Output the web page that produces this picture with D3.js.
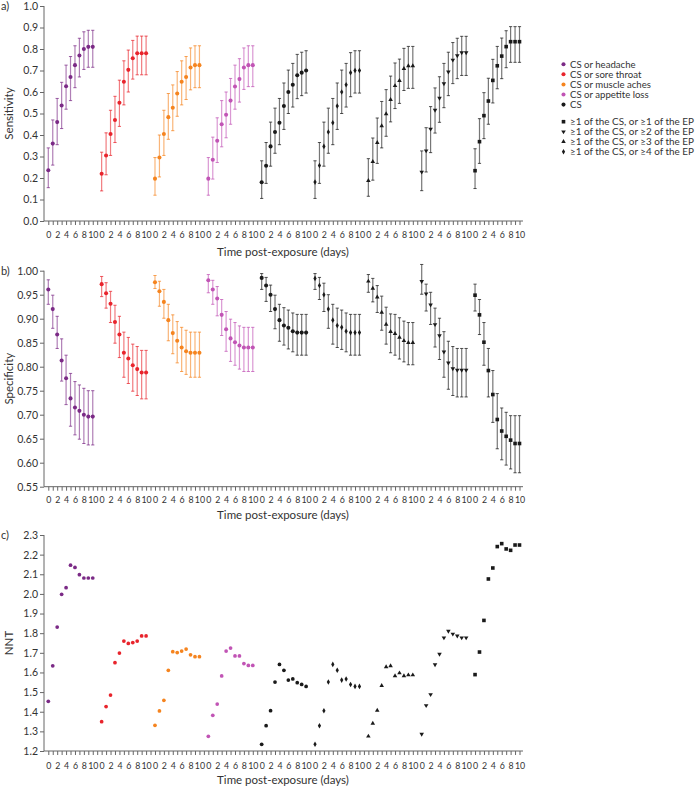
<!DOCTYPE html>
<html><head><meta charset="utf-8">
<script src="https://cdn.jsdelivr.net/npm/d3@7"></script>
<style>body{margin:0;background:#fff;} svg{display:block;font-family:Lato,"Open Sans",sans-serif;}</style>
</head><body><svg id="c" width="696" height="788"></svg>
<script>
const days = [0,1,2,3,4,5,6,7,8,9,10];
const seriesNames = ["CS or headache","CS or sore throat","CS or muscle aches","CS or appetite  loss","CS",
  "\u22651 of the CS, or \u22654 of the EP","\u22651 of the CS, or \u22653 of the EP","\u22651 of the CS, or \u22652 of the EP","\u22651 of the CS, or \u22651 of the EP"];
const seriesColors = ["#7b2a86","#e8242c","#f5841f","#c154b5","#1a1a1a","#1a1a1a","#1a1a1a","#1a1a1a","#1a1a1a"];
const seriesShapes = ["circle","circle","circle","circle","circle","diamond","triUp","triDown","square"];
const legendOrder = [0,1,2,3,4,8,7,6,5];

// Panel a: sensitivity
const sensHeadache   = [0.236,0.36,0.46,0.537,0.627,0.67,0.725,0.77,0.80,0.81,0.81];
const sensHeadacheLo = [0.155,0.26,0.355,0.43,0.52,0.56,0.62,0.67,0.705,0.715,0.715];
const sensHeadacheHi = [0.34,0.47,0.57,0.645,0.725,0.765,0.815,0.85,0.88,0.887,0.887];
const sensThroat     = [0.22,0.305,0.405,0.47,0.55,0.648,0.703,0.757,0.78,0.78,0.78];
const sensThroatLo   = [0.14,0.215,0.305,0.365,0.44,0.54,0.60,0.66,0.68,0.68,0.68];
const sensThroatHi   = [0.32,0.41,0.515,0.58,0.655,0.745,0.795,0.84,0.86,0.86,0.86];
const sensAches      = [0.197,0.295,0.405,0.483,0.527,0.593,0.648,0.67,0.714,0.725,0.725];
const sensAchesLo    = [0.12,0.205,0.305,0.38,0.42,0.487,0.54,0.565,0.61,0.62,0.62];
const sensAchesHi    = [0.295,0.40,0.515,0.593,0.633,0.695,0.745,0.765,0.805,0.815,0.815];
const sensAppetite   = [0.197,0.285,0.373,0.45,0.494,0.56,0.626,0.66,0.714,0.725,0.725];
const sensAppetiteLo = [0.12,0.195,0.272,0.345,0.387,0.45,0.52,0.553,0.612,0.625,0.625];
const sensAppetiteHi = [0.295,0.39,0.48,0.56,0.60,0.663,0.725,0.755,0.805,0.815,0.815];
const sensCS         = [0.18,0.257,0.347,0.414,0.457,0.535,0.60,0.634,0.678,0.69,0.70];
const sensCSLo       = [0.105,0.175,0.255,0.315,0.355,0.426,0.50,0.53,0.569,0.583,0.595];
const sensCSHi       = [0.28,0.365,0.46,0.525,0.57,0.642,0.702,0.733,0.775,0.785,0.792];
const sensEP4        = [0.181,0.258,0.347,0.414,0.457,0.535,0.60,0.634,0.69,0.70,0.70];
const sensEP4Lo      = [0.105,0.175,0.255,0.315,0.355,0.426,0.50,0.53,0.578,0.595,0.595];
const sensEP4Hi      = [0.28,0.365,0.46,0.525,0.57,0.642,0.702,0.733,0.783,0.792,0.792];
const sensEP3        = [0.188,0.276,0.364,0.442,0.498,0.564,0.629,0.653,0.709,0.721,0.721];
const sensEP3Lo      = [0.115,0.19,0.268,0.34,0.394,0.461,0.523,0.547,0.607,0.617,0.617];
const sensEP3Hi      = [0.29,0.386,0.479,0.556,0.611,0.674,0.735,0.753,0.803,0.812,0.812];
const sensEP2        = [0.228,0.327,0.428,0.516,0.572,0.639,0.694,0.749,0.769,0.783,0.783];
const sensEP2Lo      = [0.141,0.228,0.318,0.409,0.459,0.527,0.583,0.639,0.662,0.677,0.677];
const sensEP2Hi      = [0.326,0.434,0.532,0.619,0.671,0.733,0.785,0.83,0.85,0.859,0.859];
const sensEP1        = [0.234,0.369,0.49,0.558,0.654,0.722,0.767,0.811,0.834,0.834,0.834];
const sensEP1Lo      = [0.151,0.268,0.383,0.45,0.549,0.615,0.662,0.713,0.738,0.738,0.738];
const sensEP1Hi      = [0.336,0.476,0.597,0.664,0.752,0.812,0.851,0.885,0.904,0.904,0.904];

// Panel b: specificity
const specHeadache   = [0.961,0.92,0.867,0.813,0.776,0.734,0.715,0.708,0.70,0.696,0.696];
const specHeadacheLo = [0.93,0.88,0.838,0.77,0.721,0.676,0.658,0.649,0.64,0.637,0.637];
const specHeadacheHi = [0.981,0.949,0.905,0.858,0.824,0.786,0.769,0.762,0.755,0.75,0.75];
const specThroat     = [0.972,0.953,0.931,0.893,0.867,0.829,0.817,0.803,0.795,0.788,0.788];
const specThroatLo   = [0.946,0.922,0.892,0.849,0.819,0.778,0.765,0.749,0.74,0.733,0.733];
const specThroatHi   = [0.988,0.975,0.957,0.928,0.905,0.872,0.861,0.847,0.842,0.834,0.834];
const specAches      = [0.976,0.957,0.935,0.897,0.870,0.854,0.840,0.832,0.829,0.829,0.829];
const specAchesLo    = [0.963,0.926,0.901,0.854,0.827,0.808,0.79,0.784,0.778,0.778,0.778];
const specAchesHi    = [0.99,0.978,0.961,0.93,0.908,0.894,0.882,0.876,0.872,0.872,0.872];
const specAppetite   = [0.98,0.961,0.942,0.908,0.878,0.859,0.851,0.844,0.84,0.84,0.84];
const specAppetiteLo = [0.954,0.93,0.906,0.865,0.832,0.811,0.803,0.795,0.79,0.79,0.79];
const specAppetiteHi = [0.992,0.98,0.967,0.94,0.915,0.899,0.892,0.885,0.882,0.882,0.882];
const specCS         = [0.985,0.969,0.95,0.92,0.897,0.886,0.881,0.874,0.871,0.871,0.871];
const specCSLo       = [0.961,0.936,0.915,0.879,0.853,0.845,0.837,0.831,0.824,0.824,0.824];
const specCSHi       = [0.994,0.986,0.97,0.949,0.93,0.923,0.918,0.912,0.909,0.909,0.909];
const specEP4        = [0.984,0.969,0.95,0.92,0.897,0.886,0.882,0.874,0.871,0.871,0.871];
const specEP4Lo      = [0.961,0.94,0.915,0.88,0.847,0.84,0.836,0.831,0.824,0.824,0.824];
const specEP4Hi      = [0.994,0.986,0.974,0.95,0.93,0.922,0.918,0.912,0.909,0.909,0.909];
const specEP3        = [0.978,0.963,0.945,0.913,0.888,0.873,0.869,0.861,0.854,0.85,0.85];
const specEP3Lo      = [0.955,0.935,0.913,0.876,0.847,0.829,0.824,0.816,0.81,0.804,0.804];
const specEP3Hi      = [0.992,0.984,0.969,0.947,0.924,0.91,0.909,0.902,0.895,0.892,0.892];
const specEP2        = [0.978,0.952,0.929,0.888,0.865,0.831,0.808,0.796,0.793,0.793,0.793];
const specEP2Lo      = [0.951,0.916,0.888,0.841,0.815,0.778,0.753,0.74,0.737,0.737,0.737];
const specEP2Hi      = [1.013,0.972,0.955,0.922,0.901,0.873,0.853,0.842,0.838,0.838,0.838];
const specEP1        = [0.949,0.908,0.851,0.792,0.742,0.69,0.666,0.655,0.647,0.64,0.64];
const specEP1Lo      = [0.916,0.867,0.803,0.737,0.684,0.629,0.606,0.595,0.587,0.579,0.579];
const specEP1Hi      = [0.972,0.94,0.892,0.838,0.792,0.744,0.714,0.705,0.698,0.698,0.698];

// Panel c: NNT
const nntHeadache = [1.453,1.634,1.831,1.998,2.032,2.146,2.135,2.098,2.081,2.081,2.081];
const nntThroat   = [1.349,1.426,1.485,1.65,1.699,1.76,1.748,1.752,1.76,1.786,1.786];
const nntAches    = [1.331,1.404,1.458,1.611,1.706,1.701,1.709,1.719,1.69,1.68,1.68];
const nntAppetite = [1.275,1.382,1.439,1.582,1.709,1.724,1.684,1.684,1.645,1.636,1.636];
const nntCS       = [1.234,1.329,1.405,1.551,1.641,1.611,1.561,1.567,1.548,1.539,1.529];
const nntEP4      = [1.234,1.329,1.405,1.551,1.641,1.611,1.561,1.567,1.539,1.529,1.529];
const nntEP3      = [1.275,1.341,1.407,1.533,1.628,1.633,1.582,1.597,1.582,1.587,1.587];
const nntEP2      = [1.286,1.432,1.488,1.64,1.694,1.777,1.811,1.796,1.786,1.777,1.777];
const nntEP1      = [1.589,1.704,1.865,2.076,2.132,2.241,2.256,2.229,2.222,2.249,2.249];

const sensTicks = [0,0.1,0.2,0.3,0.4,0.5,0.6,0.7,0.8,0.9,1.0];
const specTicks = [0.55,0.60,0.65,0.70,0.75,0.80,0.85,0.90,0.95,1.00];
const nntTicks  = [1.2,1.3,1.4,1.5,1.6,1.7,1.8,1.9,2.0,2.1,2.2,2.3];

const sensSets = [[sensHeadache,sensHeadacheLo,sensHeadacheHi],[sensThroat,sensThroatLo,sensThroatHi],[sensAches,sensAchesLo,sensAchesHi],[sensAppetite,sensAppetiteLo,sensAppetiteHi],[sensCS,sensCSLo,sensCSHi],[sensEP4,sensEP4Lo,sensEP4Hi],[sensEP3,sensEP3Lo,sensEP3Hi],[sensEP2,sensEP2Lo,sensEP2Hi],[sensEP1,sensEP1Lo,sensEP1Hi]];
const specSets = [[specHeadache,specHeadacheLo,specHeadacheHi],[specThroat,specThroatLo,specThroatHi],[specAches,specAchesLo,specAchesHi],[specAppetite,specAppetiteLo,specAppetiteHi],[specCS,specCSLo,specCSHi],[specEP4,specEP4Lo,specEP4Hi],[specEP3,specEP3Lo,specEP3Hi],[specEP2,specEP2Lo,specEP2Hi],[specEP1,specEP1Lo,specEP1Hi]];
const nntSets = [[nntHeadache],[nntThroat],[nntAches],[nntAppetite],[nntCS],[nntEP4],[nntEP3],[nntEP2],[nntEP1]];

const svg = d3.select("#c");
const slots = 12;
const nSlots = seriesNames.length*slots - 1;
const x = d3.scaleLinear().domain([0, nSlots-1]).range([48.3, 519.5]);
const axisColor = "#666";

function symbolPath(shape, big){
  const map = {circle:d3.symbolCircle, square:d3.symbolSquare, triUp:d3.symbolTriangle, triDown:d3.symbolTriangle, diamond:d3.symbolDiamond};
  const sizes = {circle: big?13:11, square:13, triUp:9, triDown:9, diamond:9};
  return d3.symbol().type(map[shape]).size(sizes[shape])();
}

function panel(opts){
  const {y, ticks, fmt, sets, label, ylab, titleY, tickLabY, errors} = opts;
  const g = svg.append("g");
  const [y0, y1] = y.range();
  const ya = g.append("g").attr("transform","translate(44,0)")
    .call(d3.axisLeft(y).tickValues(ticks).tickFormat(d3.format(fmt)).tickSize(4).tickSizeOuter(0));
  ya.select(".domain").remove();
  ya.selectAll(".tick line").attr("stroke",axisColor);
  ya.selectAll(".tick text").attr("font-size",10.5).attr("fill","#333").attr("font-family","Lato,sans-serif").attr("x",-6);
  g.append("line").attr("x1",44).attr("x2",44).attr("y1",y1).attr("y2",y0).attr("stroke",axisColor);
  const xa = g.append("g").attr("transform",`translate(0,${y0})`)
    .call(d3.axisBottom(x).tickValues(d3.range(0,nSlots)).tickSize(4).tickSizeOuter(0)
      .tickFormat(i => { const d = i % slots; return (d<=10 && d%2===0) ? String(days[d]) : ""; }));
  xa.select(".domain").remove();
  xa.selectAll(".tick line").attr("stroke",axisColor);
  xa.selectAll(".tick text").attr("font-size",8.8).attr("fill","#333").attr("font-family","Lato,sans-serif").attr("y",tickLabY-y0).attr("dy","0.35em");
  g.append("line").attr("x1",44).attr("x2",523).attr("y1",y0).attr("y2",y0).attr("stroke",axisColor);
  g.append("text").attr("x",283).attr("y",titleY).attr("text-anchor","middle").attr("dy","0.35em")
    .attr("font-size",11.5).attr("fill","#333").text("Time post-exposure (days)");
  g.append("text").attr("transform",`translate(9,${(y0+y1)/2}) rotate(-90)`).attr("text-anchor","middle").attr("dy","0.35em")
    .attr("font-size",11.5).attr("fill","#333").text(ylab);
  g.append("text").attr("x",1).attr("y",y1).attr("dy","0.35em").attr("font-size",11).attr("fill","#333").text(label);

  sets.forEach((set, s) => {
    const col = seriesColors[s];
    const gs = g.append("g");
    days.forEach((d, i) => {
      const xi = x(s*slots + i);
      if (errors){
        const lo = y(set[1][i]), hi = y(set[2][i]);
        gs.append("line").attr("x1",xi).attr("x2",xi).attr("y1",lo).attr("y2",hi).attr("stroke",col).attr("stroke-opacity",0.6).attr("stroke-width",1.2);
        [lo,hi].forEach(yy => gs.append("line").attr("x1",xi-1.6).attr("x2",xi+1.6).attr("y1",yy).attr("y2",yy).attr("stroke",col).attr("stroke-opacity",0.75).attr("stroke-width",1));
      }
      const shape = seriesShapes[s];
      gs.append("path").attr("d",symbolPath(shape, errors))
        .attr("transform",`translate(${xi},${y(set[0][i])})${shape==="triDown"?" rotate(180)":""}`)
        .attr("fill",col);
    });
  });
}

panel({y:d3.scaleLinear().domain([0,1]).range([221,6]), ticks:sensTicks, fmt:".1f", sets:sensSets, label:"a)", ylab:"Sensitivity", titleY:251.5, tickLabY:235, errors:true});
panel({y:d3.scaleLinear().domain([0.55,1]).range([486.7,270.7]), ticks:specTicks, fmt:".2f", sets:specSets, label:"b)", ylab:"Specificity", titleY:515, tickLabY:500, errors:true});
panel({y:d3.scaleLinear().domain([1.2,2.3]).range([751,535]), ticks:nntTicks, fmt:".1f", sets:nntSets, label:"c)", ylab:"NNT", titleY:780, tickLabY:766, errors:false});

// legend
const lg = svg.append("g");
const legY = [64.3,74.3,84.5,94.5,104.6,121.7,131.7,141.7,151.7];
legendOrder.forEach((s, k) => {
  const shape = seriesShapes[s];
  lg.append("path").attr("d",symbolPath(shape,true)).attr("fill",seriesColors[s])
    .attr("transform",`translate(563.5,${legY[k]})${shape==="triDown"?" rotate(180)":""}`);
  lg.append("text").attr("x",570).attr("y",legY[k]).attr("dy","0.35em").attr("font-size",9.6).attr("fill","#333")
    .attr("textLength", s>=5 ? 124 : null).attr("lengthAdjust","spacingAndGlyphs").text(seriesNames[s]);
});
</script></body></html>
